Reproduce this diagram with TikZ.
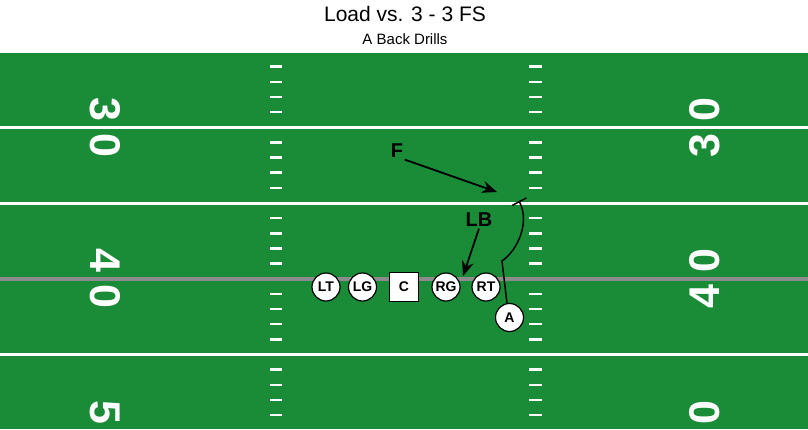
\documentclass[tikz,border=0pt]{standalone}
\usepackage{fontspec}
\setmainfont{Liberation Sans}
\usepackage{xcolor}
\definecolor{turf}{RGB}{26,139,54}
\definecolor{scrimgray}{RGB}{140,140,140}
\usetikzlibrary{arrows.meta,positioning}

\begin{document}
\begin{tikzpicture}[x=1pt,y=-1pt,line width=1.5pt,>={Stealth[length=15pt,width=12pt]}]
    \tikzstyle{yard}=[white,line width=3pt]
    \tikzstyle{hash}=[white,line width=2.5pt]
    \tikzstyle{num}=[white,inner sep=0pt,font=\fontsize{43}{43}\selectfont\bfseries]
    \tikzstyle{man}=[circle,draw=black,fill=white,line width=1.2pt,minimum size=28pt,inner sep=0pt,font=\fontsize{14}{14}\selectfont\bfseries]
    \tikzstyle{ctr}=[man,rectangle,minimum size=29pt]
    \tikzstyle{def}=[inner sep=1pt,font=\fontsize{20}{20}\selectfont\bfseries]
    \tikzstyle{run}=[black,line width=1.8pt]

    \useasboundingbox (0,0) rectangle (808,429);

    % titles
    \node[anchor=base,font=\fontsize{21}{21}\selectfont] (title) at (405,21) {Load vs. 3 - 3 FS};
    \node[anchor=base,font=\fontsize{15}{15}\selectfont] (sub)   at (405,44) {A Back Drills};

    % field
    \fill[turf] (0,51) rectangle (808,429);
    \begin{scope}
        \clip (0,51) rectangle (808,429);
        \foreach \k in {0,1,2,4,5}
            \draw[yard] (0,51.5+75.75*\k) -- (808,51.5+75.75*\k);
        \draw[scrimgray,line width=4.5pt] (0,278.75) -- (808,278.75);
        \foreach \k in {0,...,4}
            \foreach \j in {1,...,4} {
                \draw[hash] (270,51.5+75.75*\k+15.15*\j) -- (282,51.5+75.75*\k+15.15*\j);
                \draw[hash] (529,51.5+75.75*\k+15.15*\j) -- (542,51.5+75.75*\k+15.15*\j);
            }
        \node[num,rotate=-90] (L30) at (105,127.25) {3 0};
        \node[num,rotate=-90] (L40) at (105,278.75) {4 0};
        \node[num,rotate=-90] (L50) at (105,430.5)  {5 0};
        \node[num,rotate=90]  (R30) at (705,127.25) {3 0};
        \node[num,rotate=90]  (R40) at (705,278.75) {4 0};
        \node[num,rotate=90]  (R50) at (705,430.5)  {5 0};
    \end{scope}

    % offense
    \node[man] (LT) at (326,287)   {LT};
    \node[man] (LG) at (362.5,287) {LG};
    \node[ctr] (C)  at (404,287)   {C};
    \node[man] (RG) at (446,287)   {RG};
    \node[man] (RT) at (486,287)   {RT};
    \node[man] (A)  at (509.5,317.5) {A};

    % defense
    \node[def] (F)  at (397,151) {F};
    \node[def] (LB) at (479,220) {LB};

    \coordinate (Fend)  at (497,192);
    \coordinate (LBend) at (463,276);
    \coordinate (Abend) at (502,261);
    \coordinate (Aend)  at (519,201);

    \draw[run,->] (F.south east) -- (Fend);
    \draw[run,->] (LB.south) -- (LBend);
    \draw[black,line width=1.5pt,-{Bar[width=16pt,line width=1.5pt]}]
        (A.100) -- (Abend) .. controls (518,250) and (530,222) .. (Aend);
\end{tikzpicture}
\end{document}
